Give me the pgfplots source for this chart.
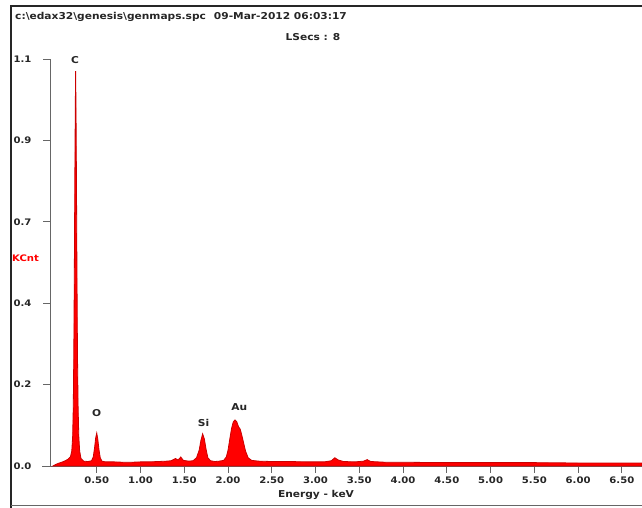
\documentclass[border=0pt]{standalone}
\usepackage{fontspec}
\setmainfont{DejaVu Sans}[FakeStretch=1.12]
\usepackage{pgfplots}
\pgfplotsset{compat=1.18}
\pgfplotstableread{
x y
0.00 0.000
0.03 0.004
0.06 0.007
0.10 0.010
0.14 0.014
0.17 0.018
0.20 0.025
0.215 0.040
0.225 0.080
0.232 0.160
0.238 0.300
0.244 0.520
0.250 0.780
0.255 0.960
0.259 1.055
0.263 0.960
0.268 0.780
0.274 0.520
0.280 0.300
0.287 0.160
0.295 0.080
0.305 0.040
0.32 0.020
0.35 0.013
0.40 0.012
0.44 0.014
0.46 0.024
0.475 0.048
0.488 0.075
0.500 0.088
0.512 0.072
0.525 0.045
0.540 0.022
0.56 0.013
0.60 0.011
0.70 0.011
0.80 0.010
0.90 0.010
1.00 0.011
1.10 0.011
1.20 0.012
1.30 0.013
1.35 0.014
1.40 0.020
1.43 0.016
1.46 0.024
1.49 0.015
1.55 0.013
1.60 0.014
1.64 0.022
1.67 0.042
1.69 0.068
1.71 0.086
1.73 0.072
1.75 0.044
1.77 0.022
1.80 0.014
1.85 0.012
1.90 0.013
1.95 0.015
1.98 0.024
2.00 0.042
2.02 0.072
2.04 0.100
2.06 0.118
2.08 0.123
2.10 0.118
2.12 0.105
2.14 0.098
2.16 0.080
2.18 0.060
2.20 0.040
2.23 0.022
2.27 0.015
2.35 0.013
2.50 0.012
2.70 0.012
2.90 0.011
3.10 0.011
3.18 0.014
3.22 0.022
3.26 0.016
3.32 0.012
3.45 0.011
3.55 0.013
3.59 0.017
3.63 0.012
3.80 0.010
4.00 0.010
4.50 0.009
5.00 0.009
5.50 0.009
6.00 0.008
6.50 0.008
6.73 0.008
}\spectrum
\begin{document}
\begin{tikzpicture}[x=1pt,y=1pt]
\useasboundingbox (0,0) rectangle (642,508);
\fill[white] (0,0) rectangle (642,508);
\draw[line width=1.6pt, black!85] (11,0) -- (11,502) -- (642,502);
\draw[line width=1pt, black!60] (11,2) -- (642,2);
\node[anchor=west, font=\bfseries\fontsize{9.5}{11}\selectfont, text=black!85, inner sep=0pt] at (15,491) {c:\textbackslash edax32\textbackslash genesis\textbackslash genmaps.spc\hspace{8pt}09-Mar-2012 06:03:17};
\node[font=\bfseries\fontsize{9.5}{11}\selectfont, text=black!85, inner sep=0pt] at (313,471) {LSecs : 8};
\node[anchor=west, font=\bfseries\fontsize{9}{10}\selectfont, text=red, inner sep=0pt] at (12,250) {KCnt};
\node[font=\bfseries\fontsize{9.5}{11}\selectfont, text=black!85, inner sep=0pt] at (316,13) {Energy - keV};
\draw[black!60, line width=0.8pt] (42,42) -- (50,42);
\begin{axis}[
  at={(50pt,42pt)}, anchor=south west, scale only axis,
  width=592pt, height=407pt,
  xmin=-0.034, xmax=6.73, ymin=0, ymax=1.0875,
  axis x line=bottom, axis y line=left,
  axis line style={-, black!60, line width=0.8pt},
  tick align=outside, major tick length=7pt,
  tick style={black!60, line width=0.8pt},
  xtick={0.5,1,1.5,2,2.5,3,3.5,4,4.5,5,5.5,6,6.5},
  xticklabels={0.50,1.00,1.50,2.00,2.50,3.00,3.50,4.00,4.50,5.00,5.50,6.00,6.50},
  ytick={0,0.2175,0.435,0.6525,0.87,1.0875},
  yticklabels={0.0,0.2,0.4,0.7,0.9,1.1},
  yticklabel style={anchor=west, xshift=-33pt},
  ticklabel style={font=\bfseries\fontsize{9}{10}\selectfont, text=black!85},
  clip=false,
]
\addplot[fill=red, draw=red!80!black, line width=0.8pt] table[x=x,y=y] {\spectrum} \closedcycle;
\node[font=\bfseries\fontsize{9.5}{11}\selectfont, text=black!85] at (axis cs:0.252,1.085) {C};
\node[font=\bfseries\fontsize{9.5}{11}\selectfont, text=black!85] at (axis cs:0.50,0.142) {O};
\node[font=\bfseries\fontsize{9.5}{11}\selectfont, text=black!85] at (axis cs:1.72,0.115) {Si};
\node[font=\bfseries\fontsize{9.5}{11}\selectfont, text=black!85] at (axis cs:2.13,0.158) {Au};
\end{axis}
\end{tikzpicture}
\end{document}
